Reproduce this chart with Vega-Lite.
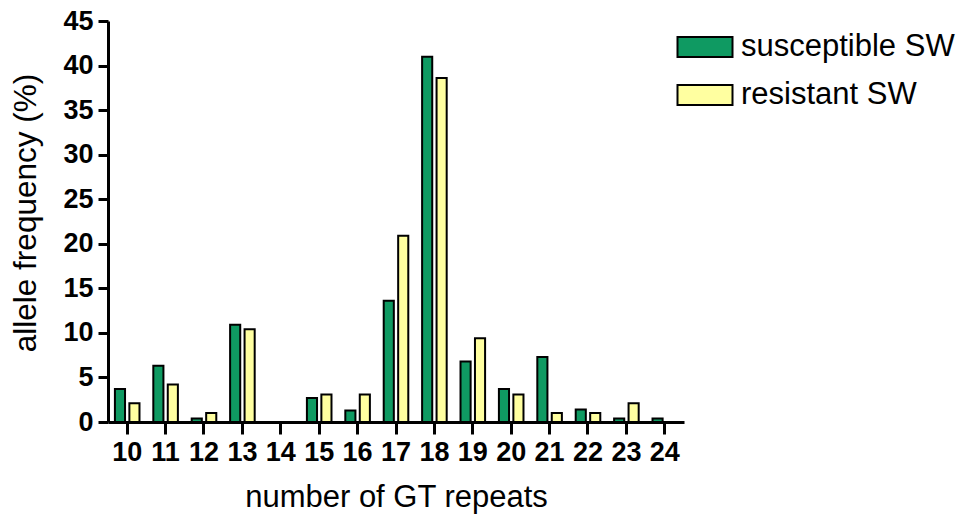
{
  "$schema": "https://vega.github.io/schema/vega-lite/v6.json",
  "width": 576,
  "height": 401,
  "autosize": "none",
  "padding": {"left": 108, "top": 21, "right": 282, "bottom": 101},
  "background": "white",
  "config": {
    "view": {"stroke": null},
    "font": "Liberation Sans"
  },
  "data": {
    "values": [
      {"repeats": "10", "group": "susceptible SW", "freq": 3.7},
      {"repeats": "10", "group": "resistant SW", "freq": 2.1},
      {"repeats": "11", "group": "susceptible SW", "freq": 6.3},
      {"repeats": "11", "group": "resistant SW", "freq": 4.2},
      {"repeats": "12", "group": "susceptible SW", "freq": 0.4},
      {"repeats": "12", "group": "resistant SW", "freq": 1.0},
      {"repeats": "13", "group": "susceptible SW", "freq": 10.9},
      {"repeats": "13", "group": "resistant SW", "freq": 10.4},
      {"repeats": "14", "group": "susceptible SW", "freq": 0},
      {"repeats": "14", "group": "resistant SW", "freq": 0},
      {"repeats": "15", "group": "susceptible SW", "freq": 2.7},
      {"repeats": "15", "group": "resistant SW", "freq": 3.1},
      {"repeats": "16", "group": "susceptible SW", "freq": 1.3},
      {"repeats": "16", "group": "resistant SW", "freq": 3.1},
      {"repeats": "17", "group": "susceptible SW", "freq": 13.6},
      {"repeats": "17", "group": "resistant SW", "freq": 20.9},
      {"repeats": "18", "group": "susceptible SW", "freq": 41.0},
      {"repeats": "18", "group": "resistant SW", "freq": 38.6},
      {"repeats": "19", "group": "susceptible SW", "freq": 6.8},
      {"repeats": "19", "group": "resistant SW", "freq": 9.4},
      {"repeats": "20", "group": "susceptible SW", "freq": 3.7},
      {"repeats": "20", "group": "resistant SW", "freq": 3.1},
      {"repeats": "21", "group": "susceptible SW", "freq": 7.3},
      {"repeats": "21", "group": "resistant SW", "freq": 1.0},
      {"repeats": "22", "group": "susceptible SW", "freq": 1.4},
      {"repeats": "22", "group": "resistant SW", "freq": 1.0},
      {"repeats": "23", "group": "susceptible SW", "freq": 0.4},
      {"repeats": "23", "group": "resistant SW", "freq": 2.1},
      {"repeats": "24", "group": "susceptible SW", "freq": 0.4},
      {"repeats": "24", "group": "resistant SW", "freq": 0}
    ]
  },
  "mark": {"type": "bar", "stroke": "black", "strokeWidth": 2},
  "encoding": {
    "x": {
      "field": "repeats",
      "type": "ordinal",
      "sort": "ascending",
      "scale": {"paddingInner": 0.36, "paddingOuter": 0.18},
      "axis": {
        "title": "number of GT repeats",
        "labelAngle": 0,
        "labelFont": "Liberation Sans",
        "labelFontWeight": "bold",
        "labelFontSize": 27,
        "labelColor": "black",
        "labelPadding": 5,
        "tickSize": 12,
        "tickWidth": 3,
        "tickColor": "black",
        "domainWidth": 3,
        "domainColor": "black",
        "titleFont": "Liberation Sans",
        "titleFontWeight": "normal",
        "titleFontSize": 31,
        "titleColor": "black",
        "titlePadding": 17
      }
    },
    "xOffset": {
      "field": "group",
      "type": "nominal",
      "scale": {"domain": ["susceptible SW", "resistant SW"], "paddingInner": 0.3}
    },
    "y": {
      "field": "freq",
      "type": "quantitative",
      "scale": {"domain": [0, 45], "nice": false},
      "axis": {
        "title": "allele frequency (%)",
        "values": [0, 5, 10, 15, 20, 25, 30, 35, 40, 45],
        "grid": false,
        "labelFont": "Liberation Sans",
        "labelFontWeight": "bold",
        "labelFontSize": 27,
        "labelColor": "black",
        "labelPadding": 5,
        "tickSize": 10,
        "tickWidth": 3,
        "tickColor": "black",
        "domainWidth": 3,
        "domainColor": "black",
        "titleFont": "Liberation Sans",
        "titleFontWeight": "normal",
        "titleFontSize": 31.5,
        "titleColor": "black",
        "titlePadding": 20,
        "titleY": 191.5
      }
    },
    "color": {
      "field": "group",
      "type": "nominal",
      "scale": {"domain": ["susceptible SW", "resistant SW"], "range": ["#0F9A62", "#FFFFA0"]},
      "legend": {
        "title": null,
        "orient": "none",
        "legendX": 576,
        "legendY": 5,
        "symbolType": "M-1.375,-0.5H1.375V0.5H-1.375Z",
        "symbolSize": 1600,
        "symbolStrokeColor": "black",
        "symbolStrokeWidth": 2,
        "symbolOpacity": 1,
        "labelFont": "Liberation Sans",
        "labelFontSize": 31,
        "labelColor": "black",
        "labelOffset": 15,
        "labelLimit": 400,
        "rowPadding": 12
      }
    }
  }
}
